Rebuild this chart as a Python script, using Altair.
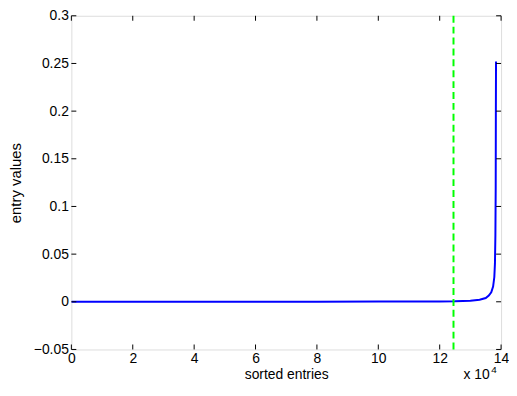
import altair as alt
import pandas as pd

# data (x in sorted-entry index, y entry values)
curve_x = [0, 20000, 40000, 60000, 80000, 100000, 120000, 125000, 130000, 133000,
           135000, 136000, 136800, 137400, 137800, 138000, 138150, 138250, 138300, 138350]
curve_y = [0.0, 0.0, 0.0, 0.0, 0.0001, 0.0002, 0.0004, 0.0006, 0.0012, 0.0022,
           0.004, 0.0065, 0.01, 0.016, 0.026, 0.04, 0.07, 0.12, 0.2, 0.252]
threshold_x = [124500]
x_ticks = [0, 20000, 40000, 60000, 80000, 100000, 120000, 140000]
y_ticks = [-0.05, 0, 0.05, 0.1, 0.15, 0.2, 0.25, 0.3]

W, H = 434, 337
FONT = "Liberation Sans"
FS = 14

xs = alt.Scale(domain=[0, 140000], nice=False, zero=False)
ys = alt.Scale(domain=[-0.05, 0.3], nice=False, zero=False)

curve = pd.DataFrame({"x": curve_x, "y": curve_y})
thr = pd.DataFrame({"x": threshold_x})
xt = pd.DataFrame({"x": x_ticks})
yt = pd.DataFrame({"y": y_ticks})

xaxis = alt.Axis(values=x_ticks, ticks=False, grid=False, domain=False,
                 labelExpr="format(datum.value/10000, 'd')",
                 title="sorted entries", labelPadding=2, titlePadding=2,
                 labelFontSize=FS, titleFontSize=FS, labelFont=FONT, titleFont=FONT,
                 labelColor="black", titleColor="black", titleFontWeight="normal",
                 labelFlush=False, labelOverlap=False)
yaxis = alt.Axis(values=y_ticks, ticks=False, grid=False, domain=False,
                 labelExpr="datum.value == 0 ? '0' : replace(format(datum.value, '.2~f'), '-', '\u2212')",
                 title="entry values", labelPadding=3, titlePadding=10,
                 labelFontSize=FS, titleFontSize=15, labelFont=FONT, titleFont=FONT,
                 labelColor="black", titleColor="black", titleFontWeight="normal",
                 labelFlush=False, labelOverlap=False)

line = alt.Chart(curve).mark_line(color="#0000ff", strokeWidth=2, clip=True).encode(
    x=alt.X("x:Q", scale=xs, axis=xaxis),
    y=alt.Y("y:Q", scale=ys, axis=yaxis),
)

vline = alt.Chart(thr).mark_rule(color="#00ff00", strokeWidth=2, strokeDash=[7, 4]).encode(
    x=alt.X("x:Q", scale=xs),
    y=alt.value(0), y2=alt.value(H),
)

tick_len = 5
bt = alt.Chart(xt).mark_rule(color="black", strokeWidth=1).encode(
    x=alt.X("x:Q", scale=xs), y=alt.value(H), y2=alt.value(H - tick_len))
tt = alt.Chart(xt).mark_rule(color="black", strokeWidth=1).encode(
    x=alt.X("x:Q", scale=xs), y=alt.value(0), y2=alt.value(tick_len))
lt = alt.Chart(yt).mark_rule(color="black", strokeWidth=1).encode(
    y=alt.Y("y:Q", scale=ys), x=alt.value(0), x2=alt.value(tick_len))
rt = alt.Chart(yt).mark_rule(color="black", strokeWidth=1).encode(
    y=alt.Y("y:Q", scale=ys), x=alt.value(W), x2=alt.value(W - tick_len))

exp_base = alt.Chart(pd.DataFrame({"t": ["x 10"]})).mark_text(
    font=FONT, fontSize=14, align="left", baseline="alphabetic", color="black").encode(
    text="t:N", x=alt.value(396), y=alt.value(367))
exp_pow = alt.Chart(pd.DataFrame({"t": ["4"]})).mark_text(
    font=FONT, fontSize=10, align="left", baseline="alphabetic", color="black").encode(
    text="t:N", x=alt.value(424), y=alt.value(361))

chart = alt.layer(line, vline, bt, tt, lt, rt, exp_base, exp_pow).properties(
    width=W, height=H,
    autosize=alt.AutoSizeParams(type="none"),
    padding={"left": 64, "top": 6, "right": 8, "bottom": 32},
).configure_view(stroke="black", strokeWidth=1.5).configure(background="white")

chart.save("out.html", embed_options={"renderer": "svg", "actions": False})
